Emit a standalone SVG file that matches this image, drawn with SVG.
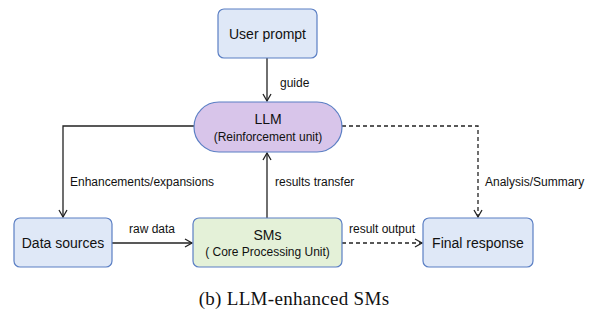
<svg xmlns="http://www.w3.org/2000/svg" width="599" height="315" viewBox="0 0 599 315">
<style>
.box{stroke:#5b7fc4;stroke-width:1.2}
.blue{fill:#dfe8f7}
.purple{fill:#d8c5ea}
.green{fill:#e4f1d8}
.t{font-family:"Liberation Sans",Arial,sans-serif;fill:#111}
.big{font-size:14px}
.sm{font-size:12px}
.c{fill:none;stroke:#222;stroke-width:1.3}
.d{stroke-dasharray:4 3}
</style>
<defs>
<marker id="a" markerWidth="10" markerHeight="10" refX="8" refY="5" orient="auto" markerUnits="userSpaceOnUse">
<path d="M1,1 L8,5 L1,9" fill="none" stroke="#222" stroke-width="1.3"/>
</marker>
</defs>
<rect width="599" height="315" fill="#fff"/>
<g id="connectors">
<path class="c" d="M267,58 V101" marker-end="url(#a)"/>
<path class="c" d="M194,126 H63 V217" marker-end="url(#a)"/>
<path class="c" d="M267,218 V153" marker-end="url(#a)"/>
<path class="c" d="M112,243 H192" marker-end="url(#a)"/>
<path class="c d" d="M342,243 H422" marker-end="url(#a)"/>
<path class="c d" d="M342,126 H478 V217" marker-end="url(#a)"/>
<text class="t sm" x="280" y="87">guide</text>
<text class="t sm" x="70" y="186">Enhancements/expansions</text>
<text class="t sm" x="275" y="186">results transfer</text>
<text class="t sm" x="485" y="186">Analysis/Summary</text>
<text class="t sm" x="152" y="233" text-anchor="middle">raw data</text>
<text class="t sm" x="382" y="233" text-anchor="middle">result output</text>
</g>
<g id="user-prompt">
<rect class="box blue" x="218" y="9" width="99" height="49" rx="6"/>
<text class="t big" x="267.5" y="38.5" text-anchor="middle">User prompt</text>
</g>
<g id="llm">
<rect class="box purple" x="194" y="102" width="148" height="50" rx="25"/>
<text class="t big" x="268" y="124" text-anchor="middle">LLM</text>
<text class="t sm" x="268" y="141" text-anchor="middle">(Reinforcement unit)</text>
</g>
<g id="data-sources">
<rect class="box blue" x="14" y="218" width="98" height="49" rx="6"/>
<text class="t big" x="63" y="248" text-anchor="middle">Data sources</text>
</g>
<g id="sms">
<rect class="box green" x="193" y="218" width="149" height="49" rx="6"/>
<text class="t big" x="267.5" y="240" text-anchor="middle">SMs</text>
<text class="t sm" x="267.5" y="256" text-anchor="middle">( Core Processing Unit)</text>
</g>
<g id="final-response">
<rect class="box blue" x="423" y="218" width="110" height="49" rx="6"/>
<text class="t big" x="478" y="248" text-anchor="middle">Final response</text>
</g>
<text x="294" y="305" text-anchor="middle" font-family="Liberation Serif,Times New Roman,serif" font-size="19" letter-spacing="0.3" fill="#111">(b) LLM-enhanced SMs</text>
</svg>
